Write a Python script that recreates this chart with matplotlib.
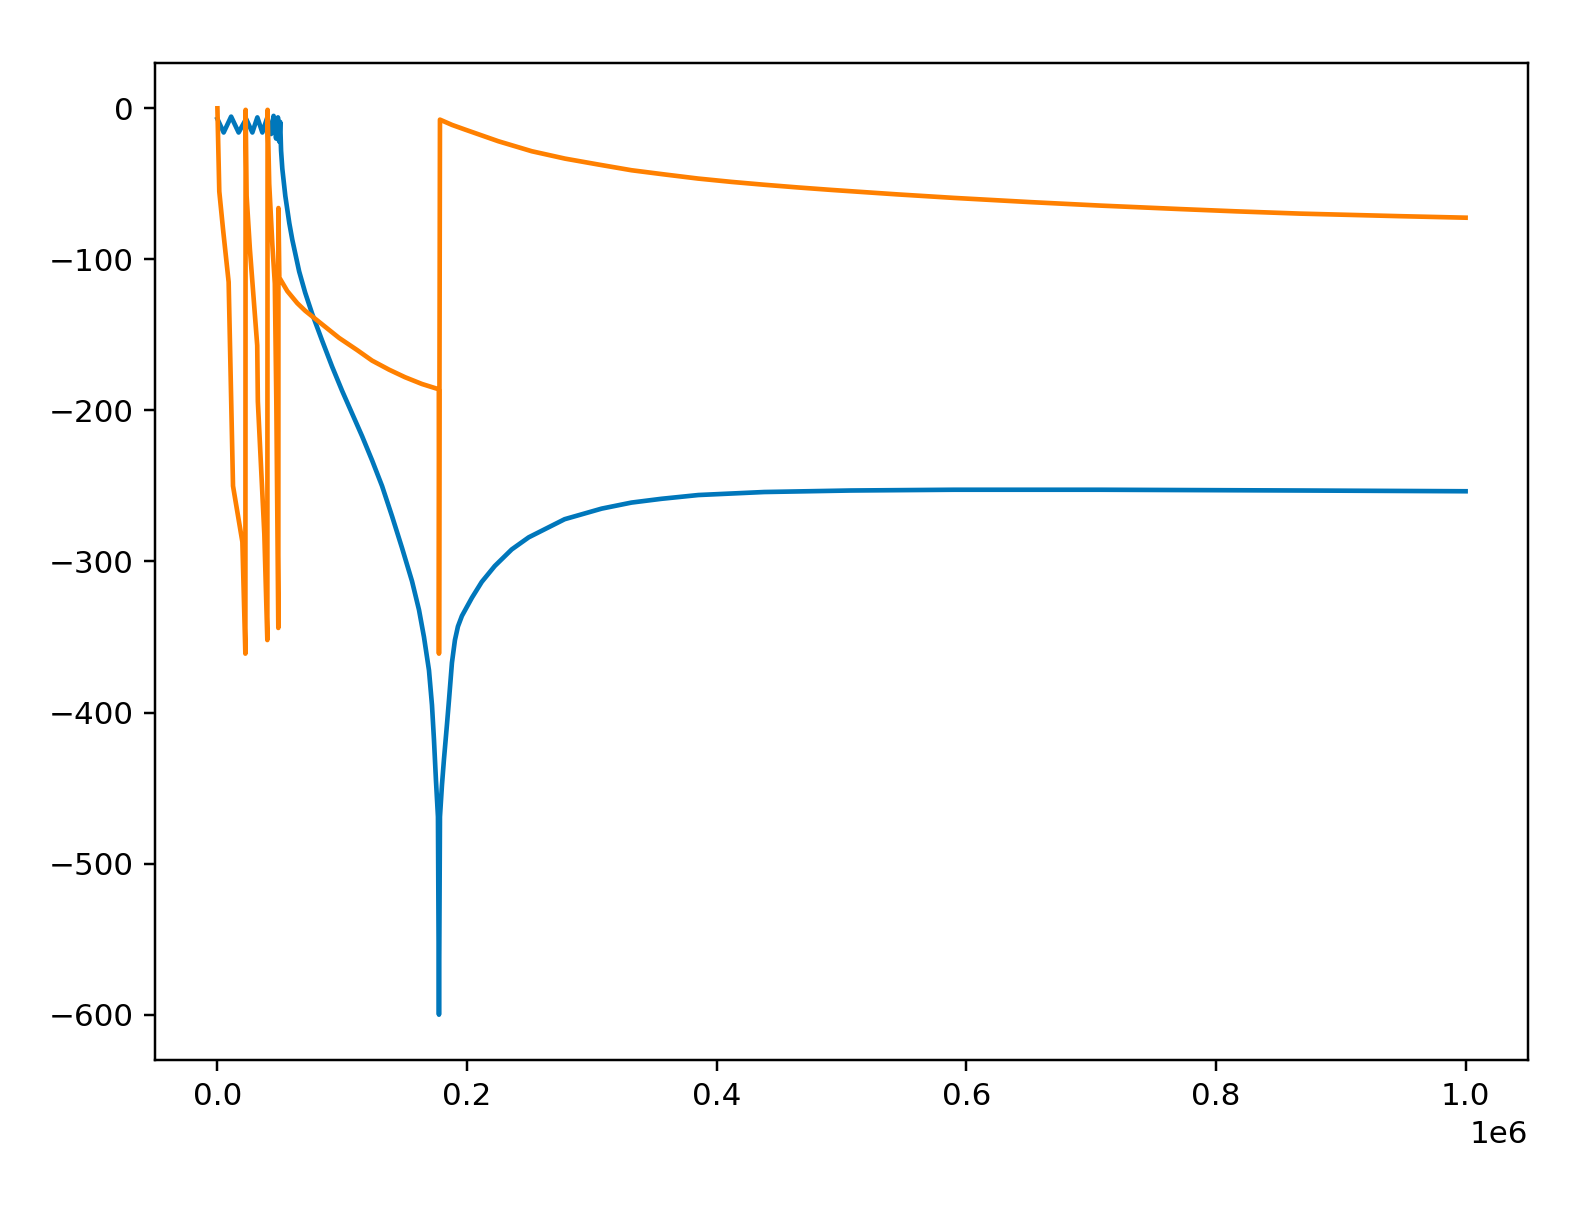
import matplotlib
matplotlib.use("Agg")
import matplotlib.pyplot as plt
import numpy as np

# blue series (x, y)
blue_x = [0, 5000, 11000, 17000, 23000, 28000, 32000, 36000, 40000, 43000,
          45000, 47000, 48500, 49500, 50300, 51000,
          52000, 54400, 57600, 60000, 65500, 70300, 75900, 84000, 91900, 99900,
          109500, 115900, 123900, 131900, 139900, 147900, 155900, 161500,
          165500, 169500, 171900, 173500, 175100, 176700, 177500,
          178300, 179900, 181500, 183900, 185500, 187900, 190300, 192700,
          195900, 199900, 203900, 211800, 222200, 235800, 249400, 263800,
          278200, 307800, 331700, 355700, 385300, 411700, 438100, 507600,
          590000, 707500, 867300, 1000000]
blue_y = [-7, -16, -5.5, -16, -7, -16, -6, -16, -6, -17,
          -5, -20, -6, -22, -9, -28,
          -40, -58, -76, -87, -108, -122, -136, -154, -171, -187,
          -205, -217, -233, -250, -270, -291, -313, -332,
          -350, -372, -395, -418, -445, -469, -600,
          -469, -448, -431, -408, -392, -367, -352, -343,
          -336, -330, -324, -313.5, -303, -292, -284, -278,
          -272, -265, -261, -258.5, -256, -255, -254, -253,
          -252.5, -252.5, -253, -253.5]

# orange series
orange_x = [0, 1500, 4500, 9000, 12500, 20000, 22400,
            22600, 23400, 26000, 31900, 32400, 37600, 40000,
            40200, 41500, 44000, 46000, 47200, 48800,
            48900, 49600, 56000, 64000, 70300, 83900, 97500, 111900, 123900,
            137500, 150300, 163900, 177400, 177500,
            178300, 188000, 198500, 225100, 251800, 278500, 305100, 331800,
            358400, 385100, 411800, 438100, 465300, 491600, 545200, 590000,
            651500, 707500, 771400, 816200, 867300, 947300, 1000000]
orange_y = [0, -55, -80, -115, -250, -287, -361,
            -1, -58, -93, -157, -194, -282, -352,
            -1, -50, -90, -116, -194, -344,
            -66, -112, -121, -129, -134, -143, -152, -160, -167,
            -173, -178, -182.5, -186, -361,
            -7.5, -11, -14.1, -21.8, -28.4, -33.3, -37.2, -41,
            -43.8, -46.5, -48.7, -50.6, -52.4, -54, -57, -59.3,
            -62.1, -64.4, -66.7, -68.2, -69.7, -71.4, -72.4]

fig = plt.figure(figsize=(1570 / 223, 1206 / 223), dpi=223)
ax = fig.add_axes([155 / 1570, 146 / 1206, 1373 / 1570, 997 / 1206])
ax.plot(np.array(blue_x), np.array(blue_y), color="#0077bb")
ax.plot(np.array(orange_x), np.array(orange_y), color="#ff8000")

fig.savefig("out.png", dpi=223)
